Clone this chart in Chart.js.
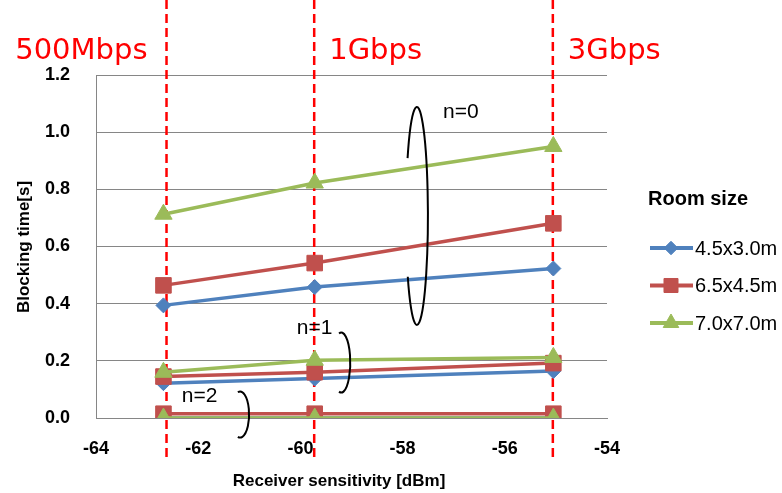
<!DOCTYPE html>
<html>
<head>
<meta charset="utf-8">
<title>Blocking time vs receiver sensitivity</title>
<script src="https://cdn.jsdelivr.net/npm/chart.js@4.4.0/dist/chart.umd.min.js"></script>
<style>
    html, body { margin: 0; padding: 0; background: #fff; }
    #wrap { width: 782px; height: 493px; }
</style>
</head>
<body>
<div id="wrap"><canvas id="chart" width="782" height="493"></canvas></div>
<script>
// Receiver sensitivity needed for each data rate [dBm]
const sensitivity = [-62.68, -59.72, -55.05];
const rateMarks = [-62.62, -59.73, -55.06];
const rateLabels = ['500Mbps', '1Gbps', '3Gbps'];

// Room sizes (legend)
const roomSizes = ['4.5x3.0m', '6.5x4.5m', '7.0x7.0m'];
const roomColors = ['#4F81BD', '#C0504D', '#9BBB59'];
const roomMarkers = ['rectRot', 'rect', 'triangle'];
const roomMarkerRadius = [7.5, 11, 10];

// Blocking time [s] per room size, n = 0, 1, 2
const room45x30_n0 = [0.394, 0.458, 0.523];
const room45x30_n1 = [0.122, 0.138, 0.164];
const room45x30_n2 = [0.0, 0.0, 0.0];
const room65x45_n0 = [0.464, 0.542, 0.681];
const room65x45_n1 = [0.145, 0.160, 0.192];
const room65x45_n2 = [0.015, 0.015, 0.015];
const room70x70_n0 = [0.713, 0.822, 0.950];
const room70x70_n1 = [0.160, 0.202, 0.212];
const room70x70_n2 = [0.0, 0.0, 0.0];

const blockingByRoom = [
    [room45x30_n0, room45x30_n1, room45x30_n2],
    [room65x45_n0, room65x45_n1, room65x45_n2],
    [room70x70_n0, room70x70_n1, room70x70_n2]
];

// Axis ranges
const xRange = [-64, -54];
const xStep = 2;
const yRange = [0, 1.2];
const yStep = 0.2;

// Hand-drawn group marks (data coords), radii in px
const groupLabels = [
    { text: 'n=0', x: -57.21, y: 1.071 },
    { text: 'n=1', x: -60.07, y: 0.315 },
    { text: 'n=2', x: -62.32, y: 0.077 }
];

// green drawn last in Excel -> first dataset in Chart.js (on top)
const datasets = [];
[2, 1, 0].forEach(r => {
    blockingByRoom[r].forEach((values, n) => {
        datasets.push({
            label: roomSizes[r] + ' n=' + n,
            data: sensitivity.map((s, k) => ({ x: s, y: values[k] })),
            borderColor: roomColors[r],
            backgroundColor: roomColors[r],
            borderWidth: 3.5,
            pointStyle: roomMarkers[r],
            pointRadius: roomMarkerRadius[r],
            pointBorderWidth: 1,
            pointBackgroundColor: roomColors[r],
            pointBorderColor: roomColors[r],
            tension: 0
        });
    });
});

const overlay = {
    id: 'overlay',
    beforeDatasetsDraw(chart) {
        const { ctx, scales: { x } } = chart;
        ctx.save();
        // data-rate guide lines
        ctx.strokeStyle = '#FF0000';
        ctx.lineWidth = 2.5;
        ctx.setLineDash([9, 5]);
        rateMarks.forEach(v => {
            const px = x.getPixelForValue(v);
            ctx.beginPath();
            ctx.moveTo(px, 0);
            ctx.lineTo(px, 458);
            ctx.stroke();
        });
        ctx.setLineDash([]);
        ctx.fillStyle = '#FF0000';
        ctx.font = '29px "DejaVu Sans"';
        ctx.textBaseline = 'alphabetic';
        rateLabels.forEach((t, i) => {
            const px = x.getPixelForValue(rateMarks[i]);
            ctx.textAlign = i === 0 ? 'right' : 'left';
            ctx.fillText(t, i === 0 ? px - 19 : px + 15, 59);
        });
        ctx.restore();
    },
    afterDatasetsDraw(chart) {
        const { ctx, scales: { x, y } } = chart;
        ctx.save();

        // n=0 loop (open on the left side)
        ctx.strokeStyle = '#000';
        ctx.lineWidth = 2;
        ctx.beginPath();
        ctx.ellipse(x.getPixelForValue(-57.72), y.getPixelForValue(0.707), 11, 109, 0, 3.70, 2.55 + Math.PI * 2);
        ctx.stroke();

        // n=1 and n=2 brackets
        ctx.beginPath();
        ctx.ellipse(x.getPixelForValue(-59.2), y.getPixelForValue(0.194), 9, 30, 0, -Math.PI / 2 - 0.25, Math.PI / 2 + 0.25);
        ctx.stroke();
        ctx.beginPath();
        ctx.ellipse(x.getPixelForValue(-61.18), y.getPixelForValue(0.012), 9, 23, 0, -Math.PI / 2 - 0.25, Math.PI / 2 + 0.25);
        ctx.stroke();

        ctx.fillStyle = '#000';
        ctx.font = '21px "Liberation Sans"';
        ctx.textAlign = 'left';
        ctx.textBaseline = 'middle';
        groupLabels.forEach(g => {
            ctx.fillText(g.text, x.getPixelForValue(g.x), y.getPixelForValue(g.y));
        });

        // legend
        ctx.font = 'bold 20px "Liberation Sans"';
        ctx.fillText('Room size', 648, 199);
        ctx.font = '20px "Liberation Sans"';
        roomSizes.forEach((name, i) => {
            const ly = 248 + i * 37.5;
            ctx.strokeStyle = roomColors[i];
            ctx.fillStyle = roomColors[i];
            ctx.lineWidth = 4;
            ctx.beginPath();
            ctx.moveTo(650, ly);
            ctx.lineTo(693, ly);
            ctx.stroke();
            ctx.lineWidth = 1;
            Chart.helpers.drawPoint(ctx, {
                pointStyle: roomMarkers[i],
                radius: roomMarkerRadius[i] * 0.9,
                borderWidth: 1,
                rotation: 0
            }, 671, ly);
            ctx.fillStyle = '#000';
            ctx.fillText(name, 695, ly + 1);
        });

        // axis titles
        ctx.font = 'bold 17px "Liberation Sans"';
        ctx.textAlign = 'center';
        ctx.fillText('Receiver sensitivity [dBm]', 339, 481);
        ctx.translate(24, 247);
        ctx.rotate(-Math.PI / 2);
        ctx.fillText('Blocking time[s]', 0, 0);
        ctx.restore();
    }
};

new Chart(document.getElementById('chart'), {
    type: 'line',
    data: { datasets },
    options: {
        responsive: false,
        animation: false,
        events: [],
        layout: { padding: { left: 0, right: 175, top: 75, bottom: 0 } },
        plugins: { legend: { display: false }, tooltip: { enabled: false } },
        scales: {
            x: {
                type: 'linear',
                min: xRange[0],
                max: xRange[1],
                afterFit: s => { s.height = 75; },
                grid: { display: false, drawTicks: false },
                border: { display: true, color: '#868686', width: 1 },
                ticks: {
                    stepSize: xStep,
                    padding: 20,
                    color: '#000',
                    font: { family: 'Liberation Sans', size: 18, weight: 'bold' }
                }
            },
            y: {
                min: yRange[0],
                max: yRange[1],
                afterFit: s => { s.width = 96; },
                grid: { color: '#868686', lineWidth: 1, drawTicks: false },
                border: { display: true, color: '#868686', width: 1 },
                ticks: {
                    stepSize: yStep,
                    padding: 26,
                    color: '#000',
                    font: { family: 'Liberation Sans', size: 18, weight: 'bold' },
                    callback: v => Number(v).toFixed(1)
                }
            }
        }
    },
    plugins: [overlay]
});
</script>
</body>
</html>
